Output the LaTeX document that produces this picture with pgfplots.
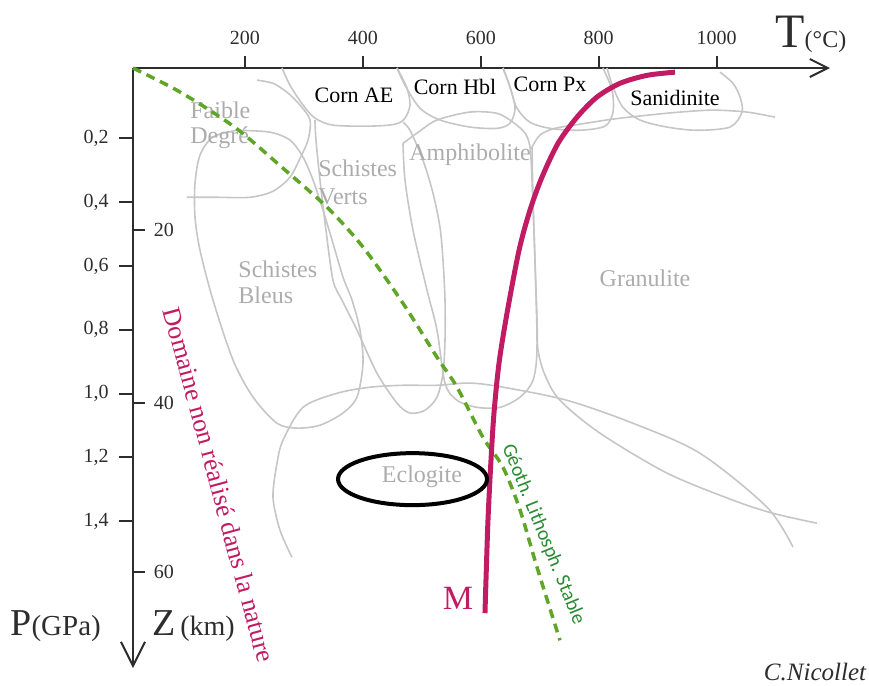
\documentclass[border=0pt]{standalone}
\usepackage{pgfplots}
\pgfplotsset{compat=1.18}
\usepackage{fontspec}
\setmainfont{Liberation Serif}
\newfontfamily\calib{Carlito}
\usetikzlibrary{arrows.meta}
\definecolor{magc}{RGB}{193,28,99}
\definecolor{geo}{RGB}{95,165,40}
\definecolor{geotxt}{RGB}{40,140,50}
\definecolor{fac}{RGB}{198,198,198}
\definecolor{factxt}{RGB}{172,172,172}
\definecolor{axc}{RGB}{45,45,45}
\begin{document}
\begin{tikzpicture}
\useasboundingbox (-66.5pt,34pt) rectangle (368pt,-309pt);
\begin{axis}[
  at={(0,0)}, anchor=north west,
  scale only axis, width=348.5pt, height=300pt,
  xmin=10, xmax=1192.4, ymin=-0.02, ymax=1.8597,
  enlargelimits=false,
  y dir=reverse,
  axis x line=top, axis y line=left,
  x axis line style={axc, line width=1pt, -{Straight Barb[length=9pt,width=9pt,line width=1pt]}},
  y axis line style={axc, line width=1pt, -{Straight Barb[length=12pt,width=12pt,line width=1pt]}},
  major tick length=0pt,
  xtick={200,400,600,800,1000},
  xticklabels={200,400,600,800,1000},
  ytick={0.2,0.4,0.6,0.8,1.0,1.2,1.4},
  yticklabels={{0,2},{0,4},{0,6},{0,8},{1,0},{1,2},{1,4}},
  ticklabel style={font=\fontsize{10}{12}\selectfont, text=axc},
  xticklabel style={yshift=8.2pt},
  yticklabel style={xshift=-8.6pt},
  clip=false,
]
% ---- facies boundaries (grey) ----
\addplot[fac, line width=0.8pt, smooth] coordinates {
 (220.4,0.018) (247.5,0.028) (271.3,0.056) (293.3,0.096) (310.3,0.143) (306.9,0.206)
 (293.3,0.263) (276.4,0.322) (247.5,0.366) (208.5,0.385) (152.5,0.385) (101.6,0.385)};
\addplot[fac, line width=0.8pt, smooth] coordinates {
 (262.8,-0.02) (276.4,0.034) (298.4,0.096) (318.7,0.137) (349.3,0.159) (412.0,0.162)
 (454.5,0.156) (471.4,0.137) (479.9,0.096) (474.8,0.043) (457.9,-0.02)};
\addplot[fac, line width=0.8pt, smooth] coordinates {
 (457.9,-0.02) (471.4,0.034) (496.9,0.106) (530.8,0.143) (581.7,0.165) (627.5,0.169)
 (649.6,0.153) (658.1,0.106) (649.6,0.040) (637.7,-0.02)};
\addplot[fac, line width=0.8pt, smooth] coordinates {
 (637.7,-0.02) (649.6,0.040) (661.5,0.106) (683.5,0.150) (717.4,0.169) (768.3,0.175)
 (810.7,0.162) (824.3,0.118) (822.6,0.049) (807.3,-0.02)};
\addplot[fac, line width=0.8pt, smooth] coordinates {
 (814.1,-0.02) (824.3,0.040) (841.2,0.103) (870.1,0.143) (915.9,0.165) (966.8,0.175)
 (1022.8,0.165) (1043.2,0.118) (1039.8,0.071) (1027.9,0.028) (1005.8,-0.007)};
\addplot[fac, line width=0.8pt, smooth] coordinates {
 (686.9,0.228) (700.4,0.190) (725.9,0.169) (768.3,0.156) (824.3,0.140) (882.0,0.128)
 (938.0,0.118) (994.0,0.112) (1051.6,0.118) (1099.1,0.134)};
% Schistes bleus
\addplot[fac, line width=0.8pt, smooth] coordinates {
 (186.4,0.175) (242.4,0.181) (276.4,0.206) (298.4,0.259) (315.4,0.331) (332.3,0.425)
 (349.3,0.529) (366.2,0.635) (381.5,0.707) (395.1,0.801) (400.2,0.905) (390.0,1.011)
 (366.2,1.061) (327.2,1.099) (288.2,1.108) (254.3,1.093) (213.6,1.011) (179.7,0.895)
 (145.7,0.707) (123.7,0.551) (115.2,0.447) (115.2,0.341) (123.7,0.253) (145.7,0.196)
 (186.4,0.175)};
% Schistes verts
\addplot[fac, line width=0.8pt, smooth] coordinates {
 (468.0,0.150) (479.9,0.175) (502.0,0.269) (518.9,0.372) (530.8,0.479) (535.9,0.582)
 (539.3,0.707) (539.3,0.833) (535.9,0.936) (525.7,1.011) (505.4,1.052) (479.9,1.061)
 (457.9,1.030) (423.9,0.936) (390.0,0.801) (364.5,0.707) (349.3,0.645) (337.4,0.488)
 (327.2,0.331) (320.4,0.206) (318.7,0.143)};
% Amphibolite
\addplot[fac, line width=0.8pt, smooth] coordinates {
 (468.0,0.216) (491.8,0.184) (525.7,0.143) (581.7,0.118) (627.5,0.122) (654.7,0.150)
 (675.1,0.184) (683.5,0.228) (686.9,0.331) (692.0,0.591) (695.4,0.855) (688.6,0.958)
 (666.6,1.011) (632.6,1.043) (593.6,1.043) (559.7,1.021) (539.3,0.967) (525.7,0.801)
 (508.8,0.676) (485.0,0.488) (471.4,0.331) (468.0,0.216)};
% Granulite
\addplot[fac, line width=0.8pt, smooth] coordinates {
 (686.9,0.228) (688.6,0.394) (692.0,0.582) (695.4,0.769) (697.1,0.864) (708.9,0.942)
 (734.3,1.021) (802.2,1.124) (915.9,1.249) (1027.9,1.334) (1095.7,1.375) (1170.3,1.406)};
% Eclogite
\addplot[fac, line width=0.8pt, smooth] coordinates {
 (279.7,1.513) (259.4,1.428) (247.5,1.325) (254.3,1.218) (264.5,1.146) (298.4,1.043)
 (356.1,0.999) (412.0,0.980) (468.0,0.974) (525.7,0.974) (581.7,0.967) (637.7,0.980)
 (746.2,1.021) (858.2,1.093) (971.9,1.187) (1085.6,1.356) (1129.6,1.481)};
% ---- grey facies names ----
\node[factxt, anchor=west, inner sep=0pt, align=left, font=\fontsize{12}{12.5}\selectfont] at (106.7,0.159) {Faible\\Degré};
\node[factxt, anchor=west, inner sep=0pt, align=left, font=\fontsize{12}{14}\selectfont] at (323.8,0.338) {Schistes\\Verts};
\node[factxt, font=\fontsize{12}{14}\selectfont] at (581.7,0.253) {Amphibolite};
\node[factxt, anchor=west, inner sep=0pt, align=left, font=\fontsize{12}{13}\selectfont] at (188.2,0.652) {Schistes\\Bleus};
\node[factxt, font=\fontsize{12}{14}\selectfont] at (878.6,0.638) {Granulite};
\node[factxt, font=\fontsize{12}{14}\selectfont] at (500.2,1.262) {Eclogite};
% ---- black facies names ----
\node[font=\fontsize{11}{13}\selectfont] at (384.9,0.065) {Corn AE};
\node[font=\fontsize{11}{13}\selectfont] at (556.3,0.040) {Corn Hbl};
\node[font=\fontsize{11}{13}\selectfont] at (717.4,0.031) {Corn Px};
\node[font=\fontsize{11}{13}\selectfont] at (929.5,0.075) {Sanidinite};
% ---- geotherm ----
\addplot[geo, line width=1.75pt, dash pattern=on 4.5pt off 3pt, smooth] coordinates {
 (10,-0.02) (77.9,0.043) (132.2,0.103) (191.5,0.178) (264.5,0.294) (339.1,0.416)
 (400.2,0.541) (468.0,0.717) (525.7,0.886) (559.7,0.980) (603.7,1.137) (637.7,1.231)
 (666.6,1.365) (695.4,1.544) (734.3,1.773)};
% ---- M curve ----
\addplot[magc, line width=2.5pt, smooth] coordinates {
 (929.5,-0.007) (882.0,0.003) (836.2,0.028) (797.1,0.071) (763.2,0.134) (731.0,0.216)
 (703.8,0.322) (683.5,0.425) (664.9,0.551) (644.5,0.748) (630.9,0.905) (622.4,1.061)
 (617.3,1.209) (612.2,1.397) (608.8,1.585) (607.1,1.688)};
\draw[line width=2pt] (484.2,1.268) ellipse [x radius=37.25pt, y radius=13pt];
\node[magc, font=\fontsize{17}{20}\selectfont] at (561.3,1.641) {M};
\node[magc, rotate=-74.9, font=\fontsize{13}{15}\selectfont] at (156,1.286) {Domaine non réalisé dans la nature};
\node[geotxt, rotate=-67.9, font=\calib\fontsize{10}{12}\selectfont] at (706,1.441) {Géoth. Lithosph. Stable};
% ---- tick marks ----
\draw[axc, line width=1pt] (200,-0.02) -- ++(0pt,6pt);
\draw[axc, line width=1pt] (400,-0.02) -- ++(0pt,6pt);
\draw[axc, line width=1pt] (600,-0.02) -- ++(0pt,6pt);
\draw[axc, line width=1pt] (800,-0.02) -- ++(0pt,6pt);
\draw[axc, line width=1pt] (1000,-0.02) -- ++(0pt,6pt);
\draw[axc, line width=1pt] (10,0.2) -- ++(-7pt,0pt);
\draw[axc, line width=1pt] (10,0.4) -- ++(-7pt,0pt);
\draw[axc, line width=1pt] (10,0.6) -- ++(-7pt,0pt);
\draw[axc, line width=1pt] (10,0.8) -- ++(-7pt,0pt);
\draw[axc, line width=1pt] (10,1.0) -- ++(-7pt,0pt);
\draw[axc, line width=1pt] (10,1.2) -- ++(-7pt,0pt);
\draw[axc, line width=1pt] (10,1.4) -- ++(-7pt,0pt);
% ---- depth ticks ----
\draw[axc, line width=1pt] (10,0.488) -- ++(6pt,0pt) node[right, inner sep=0pt, xshift=4pt, text=axc, font=\fontsize{10}{12}\selectfont] {20};
\draw[axc, line width=1pt] (10,1.030) -- ++(6pt,0pt) node[right, inner sep=0pt, xshift=4pt, text=axc, font=\fontsize{10}{12}\selectfont] {40};
\draw[axc, line width=1pt] (10,1.560) -- ++(6pt,0pt) node[right, inner sep=0pt, xshift=4pt, text=axc, font=\fontsize{10}{12}\selectfont] {60};
% ---- axis titles ----
\node[anchor=base west, inner sep=0pt, text=axc] at (1099.1,-0.085) {\fontsize{24}{26}\selectfont T\fontsize{12}{14}\selectfont(°C)};
\node[anchor=base west, inner sep=0pt, text=axc] at (-198.6,1.757) {\fontsize{19}{22}\selectfont P\fontsize{14.5}{16}\selectfont(GPa)};
\node[anchor=base west, inner sep=0pt, text=axc] at (42.2,1.757) {\fontsize{19}{22}\selectfont Z\fontsize{14}{16}\selectfont\,(km)};
\node[text=axc, font=\itshape\fontsize{12.5}{14}\selectfont] at (1167,1.872) {C.Nicollet};
\end{axis}
\end{tikzpicture}
\end{document}
